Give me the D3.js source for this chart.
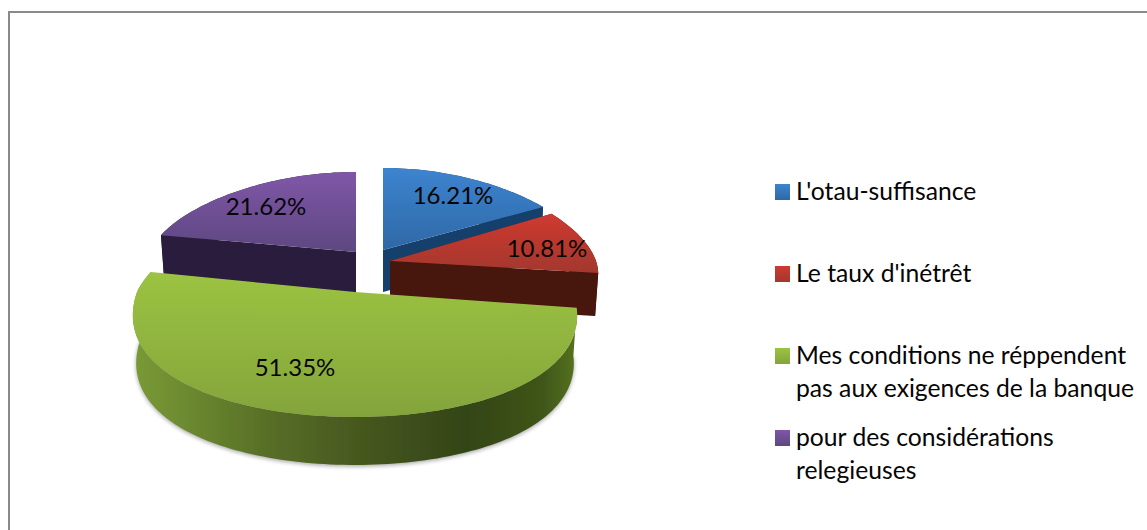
<!DOCTYPE html>
<html>
<head>
<meta charset="utf-8">
<script src="https://cdn.jsdelivr.net/npm/d3@7"></script>
<style>
  html, body { margin: 0; padding: 0; background: #fff; }
  text { font-family: Lato, "Open Sans", sans-serif; fill: #050505; }
</style>
</head>
<body>
<svg id="chart" width="1147" height="530" style="display:block"></svg>
<script>
const categories = ["L'otau-suffisance", "Le taux d'inétrêt", "Mes conditions ne réppendent pas aux exigences de la banque", "pour des considérations relegieuses"];
const values = [16.21, 10.81, 51.35, 21.62];
const legendLines = [["L'otau-suffisance"], ["Le taux d'inétrêt"], ["Mes conditions ne réppendent", "pas aux exigences de la banque"], ["pour des considérations", "relegieuses"]];

const topColors = [["#3d84cf", "#2e68a6"], ["#cf3a30", "#a3372d"], ["#9cc342", "#83a43b"], ["#8056a8", "#5d4880"]];
const wallColors = ["#173f6c", "#47120e", null, "#2a1a3e"];

// each slice is pulled out on its own, so each has its own centre
const layout = [
  {cx: 383, cy: 250, rx: 204, back: 82, front: 92, depth: 42, squeeze: 0.15, lx: 453, ly: 204},
  {cx: 390, cy: 261, rx: 206, back: 90, front: 94, depth: 43, squeeze: 0.15, lx: 547, ly: 257},
  {cx: 355, cy: 292, rx: 218, back: 95, front: 125, depth: 48, squeeze: 0.2, lx: 295, ly: 376},
  {cx: 356, cy: 252, rx: 206, back: 80, front: 80, depth: 41, squeeze: 0.15, lx: 266, ly: 215}
];

const svg = d3.select("#chart");
const defs = svg.append("defs");

// the frame only shows on the top and left, the rest is cropped away
svg.append("path")
  .attr("d", d3.line()([[9, 530], [9, 12], [1147, 12]]))
  .attr("fill", "none")
  .attr("stroke", "#8a8a8a")
  .attr("stroke-width", 2);

topColors.forEach((c, i) => {
  const g = defs.append("linearGradient").attr("id", "top" + i)
    .attr("x1", 0).attr("y1", 0).attr("x2", 0).attr("y2", 1);
  g.append("stop").attr("offset", "0%").attr("stop-color", c[0]);
  g.append("stop").attr("offset", "100%").attr("stop-color", c[1]);
});

const wall = defs.append("linearGradient").attr("id", "wallGreen")
  .attr("x1", 0).attr("y1", 0).attr("x2", 1).attr("y2", 0);
[["0%", "#7a9a36"], ["12%", "#6c8a30"], ["30%", "#586f27"], ["50%", "#47591f"], ["75%", "#334517"], ["92%", "#3f5519"], ["100%", "#56731f"]]
  .forEach(s => wall.append("stop").attr("offset", s[0]).attr("stop-color", s[1]));

defs.append("filter").attr("id", "soft").attr("x", "-10%").attr("y", "-30%").attr("width", "120%").attr("height", "160%")
  .append("feGaussianBlur").attr("stdDeviation", 2);
defs.append("filter").attr("id", "edge")
  .append("feGaussianBlur").attr("stdDeviation", 0.5);

const pie = d3.pie().sort(null).value(d => d);
const arcs = pie(values);

function pt(l, a, dy, scale) {
  const c = Math.cos(a), s = Math.sin(a);
  const r = l.rx * (1 - l.squeeze * c) * (scale || 1);
  return [l.cx + r * s, l.cy - (c > 0 ? l.back : l.front) * c + (dy || 0)];
}
function arcPoints(l, d, dy, scale) {
  const n = Math.max(8, Math.ceil((d.endAngle - d.startAngle) * 40));
  return d3.range(n + 1).map(k => pt(l, d.startAngle + (d.endAngle - d.startAngle) * k / n, dy, scale));
}
const line = d3.line();

// ground shadow under the big slice
svg.append("path")
  .attr("d", line(arcPoints(layout[2], arcs[2], layout[2].depth + 1.5, 0.985)) + "Z")
  .attr("fill", "#000").attr("opacity", 0.35).attr("filter", "url(#soft)");

const pieG = svg.append("g").attr("filter", "url(#edge)");

// back to front
[3, 0, 1, 2].forEach(i => {
  const l = layout[i], d = arcs[i];
  const top = arcPoints(l, d, 0);
  const bottom = arcPoints(l, d, l.depth, 0.985).reverse();
  const g = pieG.append("g");
  if (i === 2) {
    g.append("path").attr("d", line(top.concat(bottom)) + "Z").attr("fill", "url(#wallGreen)");
  } else {
    g.append("path").attr("d", line(top.concat(bottom)) + "Z").attr("fill", wallColors[i]);
    // the cut faces, running back to the apex
    [d.startAngle, d.endAngle].forEach(a => {
      const p = pt(l, a, 0), q = pt(l, a, l.depth, 0.985);
      g.append("path")
        .attr("d", line([[l.cx, l.cy], p, q, [l.cx, l.cy + l.depth]]) + "Z")
        .attr("fill", wallColors[i]);
    });
  }
  g.append("path")
    .attr("d", line([[l.cx, l.cy]].concat(top)) + "Z")
    .attr("fill", "url(#top" + i + ")");
});

const fmt = d => d.toFixed(2) + "%";
svg.append("g").selectAll("text").data(values).join("text")
  .attr("x", (d, i) => layout[i].lx)
  .attr("y", (d, i) => layout[i].ly)
  .attr("text-anchor", "middle")
  .attr("font-size", 24)
  .text(fmt);

// legend
const rowY = d3.scaleOrdinal().domain(d3.range(4)).range([192, 274, 356, 438]);
const lineGap = 33;
const legend = svg.append("g");
legendLines.forEach((lines, i) => {
  const y = rowY(i);
  legend.append("rect")
    .attr("x", 775).attr("y", y - 8)
    .attr("width", 15).attr("height", 16)
    .attr("fill", "url(#top" + i + ")");
  lines.forEach((t, k) => {
    legend.append("text")
      .attr("x", 796).attr("y", y + 7.5 + k * lineGap)
      .attr("font-size", 24.7)
      .text(t);
  });
});
</script>
</body>
</html>
